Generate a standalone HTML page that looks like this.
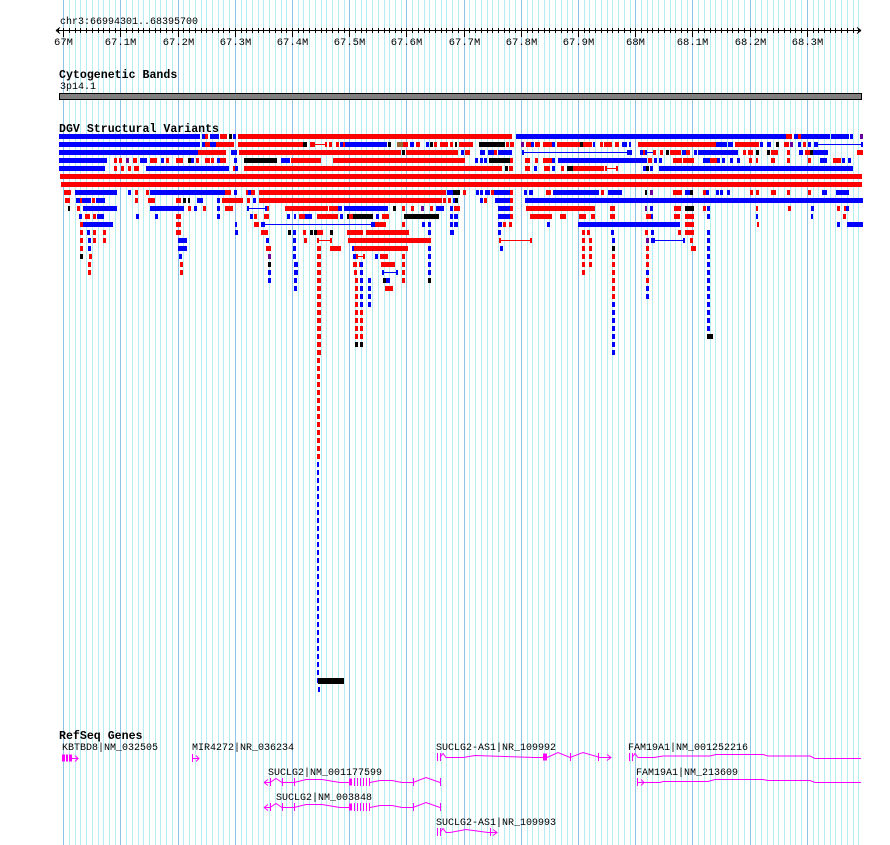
<!DOCTYPE html>
<html><head><meta charset="utf-8"><style>
html,body{margin:0;padding:0;background:#fff;}
svg{display:block;}
text{font-family:"Liberation Mono","DejaVu Sans Mono",monospace;font-size:10px;fill:#000;}
.h{font-weight:bold;font-size:11.6px;}
.t{font-size:10.5px;}
</style></head><body>
<svg id="s" width="890" height="845" xmlns="http://www.w3.org/2000/svg">
<g id="grid"></g>
<g id="ruler"></g>
<text x="60" y="24">chr3:66994301..68395700</text>
<g id="rl"></g>
<text class="h" x="59" y="78">Cytogenetic Bands</text>
<text x="60" y="89">3p14.1</text>
<rect x="59.5" y="93.5" width="802" height="6" fill="#808080" stroke="#000"/>
<text class="h" x="59" y="132">DGV Structural Variants</text>
<g id="feat"></g>
<text class="h" x="59" y="739">RefSeq Genes</text>
<text x="62" y="750">KBTBD8|NM_032505</text>
<text x="192" y="750">MIR4272|NR_036234</text>
<text x="436" y="750">SUCLG2-AS1|NR_109992</text>
<text x="628" y="750">FAM19A1|NM_001252216</text>
<text x="268" y="775">SUCLG2|NM_001177599</text>
<text x="636" y="775">FAM19A1|NM_213609</text>
<text x="276" y="800">SUCLG2|NM_003848</text>
<text x="436" y="825">SUCLG2-AS1|NR_109993</text>
<g id="genes" stroke="#ff00ff" fill="#ff00ff" stroke-width="1"></g>
</svg>
<script>
var NS="http://www.w3.org/2000/svg";
function el(p,t,a){var e=document.createElementNS(NS,t);for(var k in a)e.setAttribute(k,a[k]);document.getElementById(p).appendChild(e);return e;}
var px=0.000572, x0=60, st=66994301;
function X(bp){return x0+(bp-st)*px;}
for(var bp=67000000-10000;bp<=68400000;bp+=10000){var x=Math.round(X(bp))+0.5;if(x<59||x>862)continue;
 var maj=(bp%100000===0);el("grid","line",{x1:x,x2:x,y1:0,y2:845,stroke:maj?"#8cc4e8":"#b4eef2","stroke-width":1});}
el("ruler","line",{x1:56,x2:861,y1:30.5,y2:30.5,stroke:"#000"});
el("ruler","path",{d:"M56 30.5 l4 -3 M56 30.5 l4 3 M861 30.5 l-4 -3 M861 30.5 l-4 3",stroke:"#000",fill:"none"});
for(var bp=67000000-10000;bp<=68400000;bp+=10000){var x=Math.round(X(bp))+0.5;if(x<58||x>860)continue;
 var maj=(bp%100000===0);el("ruler","line",{x1:x,x2:x,y1:28,y2:maj?37:33,stroke:"#000"});
 if(maj){var m=(bp/1e6);var s=(m===67||m===68)?m+"M":m.toFixed(1)+"M";var t=el("rl","text",{x:x,y:45,"text-anchor":"middle","class":"t"});t.textContent=s;}}
var C={r:"#ff0000",b:"#0000ff",k:"#000000",p:"#660099",n:"#996633"};
var rows=[
"59-199b 202-204b 205-207r 210-218b 220-226r 229-231k 233-235b 238-511r 516-785b 786-791r 794-797b 798-800r 801-829b 831-848b 850-852b 860-862p",
"59-199b 202-204b 205-209r 210-215b 216-233r 238-302r 303-306k 310-312r 313-326lr 329-331r 336-338r 340-342b 343-345r 345-386b 388-390k 397-402n 403-407r 410-413b 416-419r 426-428b 430-432k 434-436r 440-447r 450-452r 455-456k 459-472r 479-504k 506-508r 510-513r 521-523p 526-530r 531-533b 535-539r 543-551r 552-554b 557-566r 566-579r 580-583k 583-586r 587-591r 593-594b 600-602r 604-611r 615-618r 622-626b 629-630b 638-715r 716-726b 728-732b 735-758r 760-762b 767-770b 776-778k 784-788r 790-792p 798-800b 803-805r 808-810b 814-816b 816-862lb",
"59-197b 198-225r 231-233b 234-236b 239-400r 402-404k 406-454r 455-457r 461-463b 465-469r 480-484b 488-494b 494-496r 498-511b 522-630lb 627-631b 640-643b 643-645r 645-654lb 653-655r 660-662r 666-668k 670-675r 676-680r 682-686b 686-689r 694-696b 698-737b 743-745r 748-752r 756-758k 767-769k 771-777r 787-789r 799-802b 805-810r 810-812k 813-827b 857-862r",
"59-103b 104-106b 114-116r 119-121r 126-128p 133-136r 140-146b 150-156r 161-163b 166-168r 176-182r 188-190k 191-193b 196-198r 205-209r 211-213r 217-219b 220-225r 234-236b 244-276k 281-289b 291-315r 316-320r 333-464r 475-477b 480-482b 484-486b 489-509k 510-512r 525-529r 535-537r 543-551r 552-554b 558-646b 648-651r 654-656b 659-661b 673-676r 677-681r 683-693r 703-710b 710-716r 717-719b 722-724b 730-732b 737-739b 749-751r 756-757r 771-774r 787-789r 808-810r 820-826b 833-840r 842-844b 848-850b",
"59-104b 114-116r 121-123r 128-130r 134-138r 146-228b 233-235r 235-237b 244-501r 505-507k 509-512r 525-529r 534-536b 544-549r 552-554b 561-563r 567-573k 573-603r 605-617lr 643-647b 646-648k 650-652b 659-845b 845-848b 849-852b",
"60-861r",
"61-861r",
"64-70r 75-116b 128-130b 135-137r 146-148r 150-224b 225-230r 234-236b 246-248r 248-251b 251-254r 259-442r 443-445r 447-449b 450-452b 453-459k 463-465r 476-478b 480-482b 485-489b 491-493r 494-509b 510-512r 524-526b 529-532b 546-550r 553-598b 601-603r 608-621b 645-646k 650-652p 673-676r 677-681r 685-688b 688-690b 690-692k 703-705r 706-708b 716-718b 720-722b 727-729b 750-752r 756-758r 771-775r 787-789r 808-810r 822-826b 836-848b",
"65-69r 76-80b 80-82r 82-90b 92-94r 96-104b 135-137r 148-154r 176-180r 183-185k 188-189k 197-202b 217-219b 222-242r 247-249r 253-255b 259-441r 443-445r 448-450r 453-455b 455-457k 480-482b 484-486r 495-509b 510-512r 525-862b",
"68-69k 77-79r 83-116b 150-183b 188-190r 194-196b 203-205r 217-219b 225-232r 247-266lb 267-268r 285-327r 329-337r 338-341b 344-387b 393-395k 402-404r 411-413r 421-423p 430-432r 436-443b 450-452b 454-459r 498-509b 510-512r 526-594r 610-614r 645-646p 650-652b 674-680r 685-693k 703-705r 707-709b 756-757r 788-790r 811-813b 837-839r 844-845r 846-848b",
"79-81b 85-89r 93-95r 97-103b 136-138b 155-157b 176-180r 217-219b 250-252b 254-256r 264-268r 287-289b 294-295b 299-302r 303-308r 305-311b 317-323r 322-328r 329-337r 340-342b 347-372k 349-352r 376-378b 382-388r 404-438k 450-452b 454-457b 498-509b 510-512r 530-551r 560-562r 563-565r 579-585r 591-594r 610-614r 646-651r 651-652b 674-679r 685-693r 707-709b 756-757b 811-812b 843-845r",
"80-82r 83-112b 176-180r 235-236b 254-258r 261-263b 263-372lb 372-375b 375-385r 402-404r 422-424b 428-430b 450-452b 454-457b 498-501b 503-505r 509-511r 547-549b 578-679b 685-693r 757-758r 837-839b 847-862b",
"80-82r 87-89b 93-95r 103-105r 176-180r 235-237b 261-267r 288-290k 293-295b 303-305r 310-312k 314-316k 317-322r 330-332k 347-362r 366-402r 403-408r 428-430b 450-453b 498-500b 582-584r 587-589r 611-613b 645-647r 651-653b 678-680r 685-693r 707-709b",
"80-82r 88-90b 93-95r 103-105r 178-186b 266-268b 293-295b 304-306r 317-331lr 348-430r 499-531lr 582-584r 589-591r 612-614b 646-648p 651-653b 653-684lb 690-692r 707-709b",
"80-82r 88-90b 178-186b 266-270r 293-295b 317-320r 330-340r 352-353b 354-407r 428-430b 500-502b 582-584r 589-591r 612-614k 646-648r 691-695r 707-709b",
"80-82k 89-91r 179-181b 268-270p 293-295b 317-320r 353-356b 356-364lr 375-377b 380-387r 402-404r 428-430b 582-584r 589-591r 612-614r 646-648r 707-709b",
"88-90r 180-182r 268-270k 294-297b 317-320r 353-356r 359-361r 360-362b 381-394r 402-404r 428-430b 582-584r 589-591r 612-614r 646-648r 707-709b",
"88-90r 180-182r 268-270b 294-297b 317-320r 354-356r 360-362b 382-397lb 402-404r 428-430b 582-584r 612-614r 646-648b 707-709b",
"268-270b 294-296b 317-320r 355-357r 360-362b 368-370b 383-387k 386-389b 402-404r 428-430k 612-614r 646-648r 707-709b",
"294-296b 317-320r 355-357r 360-362b 368-370b 385-392r 612-614r 646-648b 707-709b",
"317-320r 355-357r 360-362b 368-370b 612-614r 646-648b 707-709b",
"317-320r 355-357r 360-362b 368-370b 612-614b 707-709b",
"317-320r 355-357r 360-362r 612-614b 707-709b",
"317-320r 355-357r 360-362r 612-614b 707-709b",
"317-320r 355-357r 360-362r 612-614b 707-709b",
"317-320r 355-357r 360-362r 612-614b 707-712k",
"317-320r 355-357k 360-362k 612-614b",
"317-320r 612-614b"
];
function bar(x1,x2,y,c,line){
 if(line){el("feat","rect",{x:x1,y:y,width:2,height:5,fill:C[c]});el("feat","rect",{x:x2-1,y:y,width:2,height:5,fill:C[c]});
  el("feat","rect",{x:x1,y:y+2,width:x2-x1,height:1,fill:C[c]});}
 else el("feat","rect",{x:x1,y:y,width:Math.max(2,x2-x1+1),height:5,fill:C[c]});
}
rows.forEach(function(r,i){var y=134+8*i;r.split(" ").forEach(function(tk){
 var m=tk.match(/^(\d+)-(\d+)(l?)([a-z])$/);if(!m)return;bar(+m[1],+m[2],y,m[4],m[3]==="l");});});
for(var i=rows.length;i<=68;i++){var y=134+8*i;var c=(y<460)?"r":"b";el("feat","rect",{x:317,y:y,width:(c==="r"?3:2),height:5,fill:C[c]});}
el("feat","rect",{x:318,y:678,width:26,height:6,fill:"#000"});
el("feat","rect",{x:318,y:687,width:2,height:5,fill:"#0000ff"});
function g(d){el("genes","path",{d:d,fill:"none"});}
function ex(x,y,w){el("genes","rect",{x:x,y:y-3.5,width:w,height:7,stroke:"none"});}
function vb(x,y){el("genes","rect",{x:x,y:y-4,width:1,height:8,stroke:"none"});}
ex(62,758,3);ex(66,758,2);ex(69,758,3);g("M72 758.5 H78 M75 755.5 l3 3 l-3 3");
vb(192,758);g("M193 758.5 H199 M196 755.5 l3 3 l-3 3");
vb(437,757);vb(440,757);g("M440 757.5 l3 -4 l3 4 H463 L475 755.5 L535 757.5 L544 757.5");ex(543,757,4);
g("M547 757.5 L558 752.5 L570 757.5 L583 752.5 L600 757.5 H611 M607 754.5 l4 3 l-4 3");vb(570,757);vb(598,757);
vb(629,757);vb(632,757);g("M632 757.5 l3 -4 l3 4 H654 L663 756 H710 L716 754.5 H763 L768 756 H810 L815 758.5 H861");
vb(637,782);g("M637 782.5 L660 782.5 L663 781.5 H708 L715 779.5 H763 L768 780.5 H810 L815 782.5 H861 M641 779.5 l3 3 l-3 3");
function suc(y){var b=y+.5;
 g("M264 "+b+" l4 -3 M264 "+b+" l4 3 M264 "+b+" H270 L276 "+(b-4)+" L282 "+b+" H294 L306 "+(b-3)+" L322 "+(b-3)+" L340 "+b+" H349 M370 "+b+" L380 "+(b-2)+" L392 "+(b-2)+" L402 "+b+" H413 L426 "+(b-5)+" L440 "+b);
 vb(270,y);vb(282,y);vb(294,y);ex(349,y,3);vb(354,y);vb(357,y);vb(360,y);vb(363,y);vb(366,y);vb(369,y);vb(413,y);vb(440,y);}
suc(782);suc(807);
vb(437,832);vb(440,832);g("M440 832.5 l3 -4 l3 4 H450 L466 829.5 L488 832.5 H497 M493 829.5 l4 3 l-4 3");vb(490,832);
</script>
</body></html>
